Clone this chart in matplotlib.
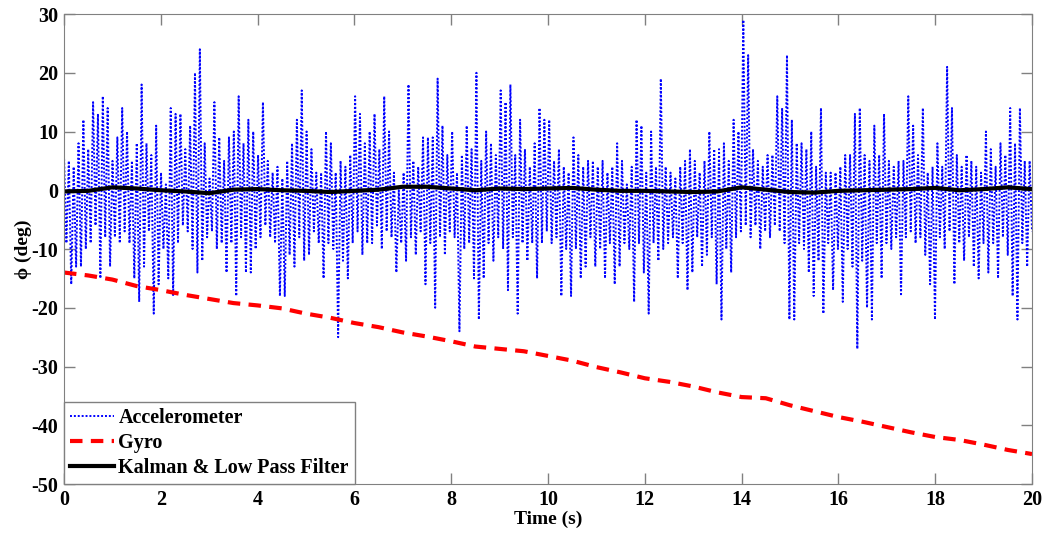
import numpy as np
import matplotlib
matplotlib.use("Agg")
import matplotlib.pyplot as plt

plt.rcParams['font.family'] = ['Liberation Serif', 'DejaVu Serif']
plt.rcParams['font.weight'] = 'bold'
plt.rcParams['axes.unicode_minus'] = False

# accelerometer: upper and lower swing in each 0.1 s bin
acc_hi = [6, 5, 4, 8, 12, 7, 15, 13, 16, 14,
          5, 9, 14, 10, 5, 8, 18, 8, 6, 11,
          3, 1, 14, 13, 13, 7, 11, 20, 24, 8,
          2, 15, 9, 5, 9, 10, 16, 8, 12, 10,
          6, 15, 5, 3, 4, 2, 5, 8, 12, 17,
          10, 7, 3, 3, 10, 8, 3, 5, 4, 6,
          16, 13, 8, 10, 13, 7, 16, 10, 3, 0,
          3, 18, 5, 4, 9, 9, 9, 19, 11, 6,
          10, 3, 6, 11, 7, 20, 5, 10, 8, 6,
          17, 15, 18, 6, 12, 7, 4, 8, 14, 12,
          12, 5, 7, 4, 3, 9, 6, 4, 5, 5,
          4, 5, 3, 4, 8, 5, 1, 4, 12, 11,
          3, 10, 4, 19, 4, 3, 2, 4, 5, 7,
          5, 3, 5, 10, 7, 7, 8, 5, 12, 10,
          29, 23, 7, 5, 4, 6, 6, 16, 14, 23,
          12, 8, 8, 7, 10, 4, 14, 3, 3, 3,
          4, 6, 6, 13, 14, 6, 5, 11, 6, 13,
          5, 4, 5, 5, 16, 11, 6, 14, 3, 4,
          8, 4, 21, 14, 6, 4, 6, 5, 4, 3,
          10, 7, 4, 8, 6, 14, 8, 14, 5, 5]
acc_lo = [-9, -16, -13, -13, -10, -9, -6, -15, -8, -13,
          -8, -9, -7, -9, -15, -19, -13, -7, -21, -16,
          -10, -15, -18, -9, -6, -7, -10, -14, -12, -8,
          -7, -10, -9, -14, -9, -18, -8, -14, -14, -10,
          -8, -6, -8, -9, -18, -18, -11, -13, -8, -12,
          -11, -7, -9, -15, -9, -10, -25, -12, -15, -9,
          -7, -11, -9, -9, -6, -10, -7, -8, -14, -9,
          -12, -8, -11, -7, -16, -9, -20, -8, -11, -7,
          -8, -24, -10, -9, -15, -22, -15, -9, -12, -8,
          -10, -17, -8, -21, -9, -12, -9, -15, -9, -7,
          -9, -8, -18, -10, -18, -10, -15, -13, -8, -13,
          -10, -15, -9, -16, -13, -9, -10, -19, -9, -14,
          -21, -9, -12, -10, -9, -8, -15, -9, -17, -14,
          -8, -13, -11, -8, -16, -22, -10, -14, -8, -7,
          -6, -8, -6, -10, -7, -8, -6, -7, -9, -22,
          -22, -9, -10, -14, -18, -12, -21, -9, -17, -10,
          -19, -10, -13, -27, -12, -20, -22, -9, -15, -9,
          -10, -8, -18, -8, -7, -9, -8, -11, -16, -22,
          -8, -10, -7, -16, -9, -12, -8, -13, -15, -9,
          -14, -9, -15, -8, -11, -18, -22, -9, -13, -7]

# gyro and filter output, every 0.5 s
gyro = [-14.0, -14.5, -15.2, -16.3, -17.0, -17.8, -18.5, -19.2, -19.6, -20.1,
        -21.0, -21.7, -22.6, -23.3, -24.2, -24.9, -25.7, -26.6, -27.0, -27.4,
        -28.2, -29.0, -30.1, -31.0, -32.0, -32.6, -33.4, -34.4, -35.2, -35.4,
        -36.6, -37.6, -38.6, -39.4, -40.3, -41.2, -42.0, -42.5, -43.3, -44.2, -44.9]
kalman = [-0.2, -0.1, 0.5, 0.3, 0.0, -0.2, -0.5, 0.1, 0.2, 0.0,
          -0.1, -0.3, -0.1, 0.1, 0.6, 0.6, 0.3, 0.0, 0.3, 0.2,
          0.3, 0.4, 0.1, -0.1, -0.1, -0.2, -0.3, -0.2, 0.5, 0.1,
          -0.3, -0.4, -0.1, 0.0, 0.1, 0.2, 0.4, 0.0, 0.2, 0.5, 0.2]

acc = np.empty(2 * len(acc_hi))
acc[0::2] = acc_hi
acc[1::2] = acc_lo
t_acc = np.linspace(0, 20, len(acc))
t_slow = np.linspace(0, 20, len(gyro))

fig = plt.figure(figsize=(10.47, 5.35), dpi=100)
ax = fig.add_axes([0.0611, 0.0953, 0.9246, 0.8785])

ax.plot(t_acc, acc, color='blue', lw=1.4, linestyle=(0, (1, 1)), label='Accelerometer')
ax.plot(t_slow, gyro, color='red', lw=3, linestyle=(0, (3, 2)), label='Gyro')
ax.plot(t_slow, kalman, color='black', lw=3, label='Kalman & Low Pass Filter')

ax.set_xlim(0, 20)
ax.set_ylim(-50, 30)
ax.set_xticks(range(0, 21, 2))
ax.set_yticks(range(-50, 31, 10))
ax.tick_params(direction='in', length=8, width=1, color='gray', labelsize=14.5,
               top=True, right=True, pad=4)
for s in ax.spines.values():
    s.set_color('gray')
ax.set_xlabel('Time (s)', fontsize=14, fontweight='bold', labelpad=1)
ax.set_ylabel('ϕ (deg)', fontsize=14, fontweight='bold', labelpad=0)

leg = ax.legend(loc='lower left', borderaxespad=0, fontsize=14.5, handlelength=2.2,
                handletextpad=0.2, labelspacing=0.25, fancybox=False, framealpha=1,
                borderpad=0.3)
leg.get_frame().set_edgecolor('gray')
leg.get_frame().set_linewidth(1)

fig.savefig('out.png', dpi=100)
